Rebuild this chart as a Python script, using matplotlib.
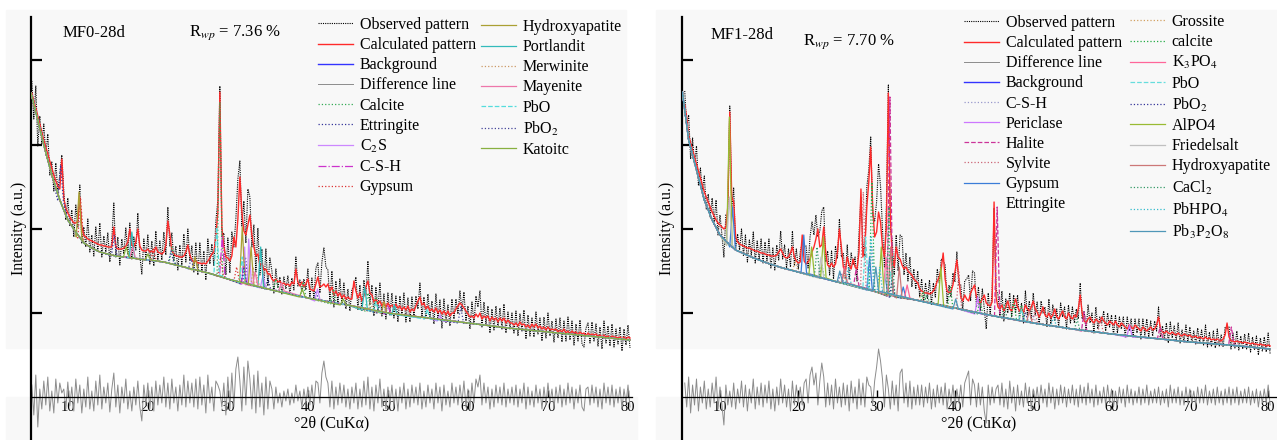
import numpy as np
import matplotlib
matplotlib.use("Agg")
import matplotlib.pyplot as plt
from matplotlib.lines import Line2D
from matplotlib.patches import Rectangle

plt.rcParams['font.family'] = ['Liberation Serif', 'DejaVu Serif']
plt.rcParams['mathtext.fontset'] = 'stix'

# scan positions, 0.25 deg steps from 5.5 to 80.25 (20 points per row below)
two_theta = np.arange(300) * 0.25 + 5.5

# ---------------- MF0-28d ----------------
mf0_calc = [
    304, 296, 289, 281, 273, 265, 257, 250, 243, 236, 229, 222, 216, 211, 208, 238, 198, 189, 184, 180,
    177, 174, 174, 176, 200, 170, 162, 160, 158, 157, 156, 155, 154, 153, 152, 152, 151, 151, 150, 150,
    150, 170, 150, 148, 148, 148, 149, 151, 155, 168, 152, 150, 155, 168, 151, 147, 146, 146, 148, 145,
    146, 145, 150, 145, 144, 143, 145, 152, 176, 163, 146, 143, 141, 141, 140, 140, 141, 145, 152, 142,
    137, 135, 136, 134, 134, 133, 134, 133, 136, 139, 143, 145, 160, 185, 305, 170, 150, 140, 139, 136,
    141, 160, 150, 178, 220, 185, 166, 162, 172, 182, 162, 150, 141, 143, 132, 134, 127, 128, 123, 123,
    118, 116, 118, 115, 116, 113, 114, 112, 113, 111, 115, 113, 128, 115, 111, 115, 110, 113, 118, 108,
    107, 106, 113, 120, 110, 111, 113, 110, 113, 106, 110, 102, 106, 101, 104, 99, 102, 98, 100, 98,
    98, 116, 106, 99, 104, 96, 101, 110, 116, 104, 102, 95, 98, 93, 96, 91, 95, 90, 94, 90,
    92, 89, 93, 89, 91, 87, 90, 87, 91, 85, 88, 86, 91, 96, 100, 92, 94, 88, 91, 86,
    88, 85, 89, 84, 87, 83, 86, 82, 86, 81, 84, 84, 88, 91, 94, 92, 89, 86, 83, 80,
    81, 79, 83, 80, 84, 78, 81, 79, 81, 76, 80, 77, 79, 75, 79, 76, 79, 74, 77, 74,
    74, 72, 74, 71, 75, 72, 73, 70, 72, 69, 73, 70, 73, 69, 71, 68, 70, 67, 70, 67,
    68, 67, 68, 65, 67, 65, 68, 64, 66, 63, 66, 64, 65, 62, 65, 63, 64, 61, 64, 62,
    63, 62, 63, 61, 62, 60, 62, 60, 61, 59, 61, 60, 60, 59, 60, 58, 60, 58, 60, 59,
]
mf0_diff = [
    12, -18, 22, -30, 8, -12, 16, -8, 20, -14, 6, -16, 18, -6, 14, 4, 8, -12, 15, -9,
    10, -14, 18, -6, 12, -16, 8, -10, 20, -12, 6, -14, 16, -8, 22, -12, 10, -6, 14, -15,
    8, 24, -10, 12, -16, 10, -6, 18, -12, 6, -14, 10, -8, 16, -10, -24, 12, -8, 14, -12,
    10, -14, 16, -8, 12, -6, 20, -10, 14, -12, 18, -6, 10, -14, 12, -8, 22, -10, 16, -6,
    14, -10, 18, -12, 20, -8, 12, -16, 22, -6, 10, -14, 16, 12, 6, -10, 14, -18, 20, -12,
    24, -10, 28, 40, 16, -14, 30, -8, 36, 18, -12, 22, -16, 26, -10, 14, -18, 20, -12, 16,
    8, -12, 10, -6, 4, -10, 6, -4, 8, -8, 4, -6, 12, -4, 6, -10, 8, -6, 10, -8,
    12, -8, 16, 14, -6, 24, 36, 20, 14, -10, 16, -12, 10, -8, 14, -6, 12, -10, 8, -12,
    10, -6, 14, -12, 8, -10, 16, -8, 20, -12, 10, -14, 12, -6, 18, -10, 8, -12, 10, -8,
    12, -10, 8, -14, 10, -6, 14, -12, 8, -10, 12, -6, 10, -8, 14, -12, 6, -10, 12, -6,
    8, -12, 14, -6, 10, -14, 12, -8, 6, -10, 14, -6, 10, -8, 12, -6, 16, -10, 8, -12,
    14, -6, 18, 10, 22, -8, 14, -6, 10, -12, 8, -10, 12, -6, 10, -8, 14, -10, 8, -6,
    10, -8, 12, -10, 8, -6, 14, -12, 10, -8, 6, -10, 12, -6, 8, -12, 10, -8, 14, -6,
    8, -12, 10, -6, 12, -10, 8, -8, 14, -6, 10, -12, 8, -6, 12, -10, -14, 8, 10, -8,
    12, -6, 10, -10, 8, -12, 14, -6, 10, -8, 12, -10, 8, -6, 10, -12, 8, -6, 12, -10,
]
mf0_bg_x = [5.4, 6, 7, 8, 9, 10, 11, 12, 13, 14, 16, 18, 20, 22, 25, 28, 30, 35, 40, 45, 50, 55, 60, 65, 70, 75, 80.25]
mf0_bg_y = [304, 285, 252, 222, 197, 177, 165, 154, 149, 145, 141, 139, 137, 135, 129, 123, 118, 108, 99, 92, 84, 79, 74, 69, 65, 61, 57]

# phase peaks: (2theta, base, top)
mf0_calcite = [(23.0, 134, 150), (29.0, 121, 295), (36.0, 107, 118), (39.4, 100, 115), (43.2, 93, 108), (47.5, 86, 104), (48.5, 85, 100)]
mf0_ettringite = [(9.1, 196, 232), (15.8, 141, 162), (22.9, 134, 146), (32.2, 113, 140), (35.0, 108, 118), (41.0, 97, 106)]
mf0_c2s = [(32.1, 113, 150), (32.6, 112, 158), (34.4, 109, 122), (41.2, 96, 108), (56.5, 76, 82)]
mf0_csh = [(29.3, 120, 160), (32.0, 113, 135), (50.0, 83, 92)]
mf0_gypsum = [(11.6, 159, 198), (20.7, 136, 148), (29.1, 121, 140), (31.1, 116, 130)]
mf0_hydroxyapatite = [(11.4, 160, 205), (25.9, 127, 140), (31.8, 114, 170), (32.9, 112, 150), (49.5, 84, 95)]
mf0_portlandit = [(18.0, 139, 165), (34.1, 110, 150), (47.1, 87, 110), (50.8, 82, 92)]
mf0_merwinite = [(33.2, 111, 130), (33.6, 111, 122), (47.8, 86, 96)]
mf0_mayenite = [(18.1, 139, 150), (33.4, 111, 125), (36.7, 106, 114)]
mf0_pbo = [(28.6, 122, 170), (31.8, 114, 140), (48.5, 85, 95), (54.9, 78, 88)]
mf0_pbo2 = [(25.4, 128, 138), (32.0, 113, 130), (49.0, 84, 92), (59.1, 74, 90)]
mf0_katoite = [(17.3, 140, 150), (20.0, 137, 143), (39.3, 100, 108), (44.4, 92, 98)]

# ---------------- MF1-28d ----------------
mf1_calc = [
    292, 280, 262, 254, 247, 240, 233, 226, 219, 212, 205, 200, 195, 190, 185, 181, 177, 174, 172, 170,
    168, 170, 190, 285, 200, 195, 160, 155, 153, 152, 151, 150, 149, 149, 148, 147, 146, 146, 145, 144,
    144, 143, 142, 142, 141, 141, 141, 142, 145, 148, 144, 140, 139, 140, 144, 150, 140, 136, 134, 135,
    162, 136, 133, 135, 138, 145, 150, 158, 168, 150, 152, 170, 145, 132, 130, 134, 130, 133, 145, 168,
    150, 130, 126, 140, 132, 128, 138, 130, 128, 145, 208, 140, 150, 190, 215, 250, 190, 160, 165, 185,
    175, 150, 140, 170, 304, 180, 140, 130, 150, 140, 138, 132, 128, 130, 126, 124, 122, 118, 116, 114,
    108, 106, 105, 104, 104, 103, 104, 106, 110, 116, 120, 128, 144, 118, 106, 104, 106, 112, 125, 137,
    118, 100, 96, 102, 98, 96, 104, 108, 112, 100, 96, 94, 98, 102, 94, 92, 91, 95, 195, 100,
    90, 88, 92, 86, 90, 96, 88, 86, 92, 98, 90, 86, 88, 84, 92, 88, 86, 90, 96, 88,
    85, 80, 84, 90, 82, 80, 84, 79, 82, 88, 80, 78, 82, 86, 80, 78, 84, 80, 78, 82,
    80, 88, 102, 84, 76, 74, 78, 80, 76, 74, 78, 76, 74, 80, 76, 74, 72, 76, 74, 72,
    76, 72, 70, 74, 72, 70, 68, 72, 70, 68, 72, 70, 68, 66, 70, 68, 66, 68, 70, 67,
    68, 72, 80, 68, 65, 64, 66, 64, 63, 65, 63, 62, 64, 62, 61, 63, 62, 61, 62, 60,
    60, 61, 59, 60, 59, 58, 60, 58, 59, 57, 58, 57, 58, 57, 56, 58, 62, 74, 60, 56,
    56, 55, 56, 55, 55, 54, 55, 54, 54, 53, 54, 53, 53, 52, 53, 52, 52, 51, 52, 51,
]
mf1_diff = [
    14, -10, 20, -16, 12, -8, 18, -14, 10, -6, 16, -12, 8, -10, 14, -6, 20, -12, 10, -8,
    -28, 12, -8, 6, -10, 14, -12, 8, -6, 16, -10, 12, -14, 8, -6, 18, -12, 10, -8, 14,
    -10, 12, -6, 16, -12, 8, -14, 10, -8, 18, -6, 12, -10, 8, -14, 16, -8, 12, -6, 10,
    -8, 14, 18, -6, 22, 30, 12, 24, -8, 16, 34, 20, -10, 14, -8, 12, -12, 18, -6, 10,
    -10, 14, -8, 12, -14, 16, -6, 10, -12, 18, -8, 14, -10, 20, 12, 10, -8, 16, 30, 48,
    36, 18, -10, 22, 8, -12, 16, -8, 12, -14, 24, 28, -6, 14, -10, 16, -12, 10, -8, 12,
    -8, 12, -10, 10, -6, 14, -12, 8, -10, 12, -6, 10, -8, 14, -12, 8, -6, 12, -10, 8,
    -6, 12, -10, 14, 20, 26, -8, 18, 12, -10, 14, -8, 10, -14, -26, 12, -8, 10, -6, 8,
    12, -8, 14, -10, 8, -12, 16, -6, 10, -14, 12, -8, 6, -10, 14, -6, 10, -12, 8, -6,
    10, -8, 12, -6, 8, -10, 14, -6, 10, -12, 8, -8, 12, -6, 10, -10, 8, -6, 12, -8,
    8, -10, 12, -6, 10, -8, 14, -6, 8, -10, 12, -8, 6, -6, 10, -8, 12, -6, 8, -10,
    6, -8, 10, -6, 8, -10, 12, -6, 8, -8, 6, -6, 10, -8, 8, -6, 12, -8, 6, -6,
    8, -6, 10, -8, 6, -6, 8, -10, 12, -6, 8, -6, 10, -8, 6, -8, 10, -6, 8, -6,
    6, -8, 10, -6, 8, -6, 12, -8, 6, -6, 8, -8, 10, -6, 6, -8, 8, -6, 10, -8,
    8, -6, 10, -8, 6, -6, 8, -6, 10, -8, 6, -6, 8, -10, 6, -6, 8, -6, 12, -8,
]
mf1_bg_x = [5.2, 6, 7, 8, 9, 10, 11, 12, 14, 16, 18, 20, 25, 30, 35, 40, 45, 50, 55, 60, 65, 70, 75, 80.25]
mf1_bg_y = [305, 257, 227, 197, 177, 162, 154, 147, 140, 134, 129, 125, 115, 105, 97, 89, 81, 74, 68, 63, 59, 55, 52, 48]

mf1_csh = [(29.4, 108, 150), (32.0, 100, 120), (50.0, 74, 82)]
mf1_periclase = [(42.9, 83, 100), (62.3, 60, 72)]
mf1_halite = [(27.4, 111, 128), (31.7, 101, 300), (45.4, 80, 190), (56.5, 66, 85), (66.2, 58, 70), (75.3, 52, 70)]
mf1_sylvite = [(28.3, 109, 205), (40.5, 88, 125), (50.2, 74, 86), (58.6, 64, 78), (66.4, 58, 66), (73.7, 52, 58)]
mf1_gypsum = [(11.6, 150, 190), (20.7, 124, 162), (29.1, 107, 140), (31.1, 103, 120), (33.4, 99, 110)]
mf1_grossite = [(19.6, 126, 136), (25.8, 114, 125), (35.7, 96, 104)]
mf1_calcite = [(23.0, 119, 132), (29.4, 107, 215), (36.0, 96, 106), (39.4, 89, 110), (43.2, 83, 98), (47.5, 78, 95), (48.5, 77, 92)]
mf1_k3po4 = [(25.9, 114, 130), (31.2, 103, 140), (33.9, 99, 112)]
mf1_pbo = [(28.6, 109, 160), (31.8, 101, 125), (48.5, 77, 88)]
mf1_pbo2 = [(25.4, 115, 124), (32.0, 100, 118), (49.0, 76, 84)]
mf1_alpo4 = [(11.2, 152, 280), (21.7, 122, 150), (23.2, 119, 160), (30.6, 104, 150), (38.2, 92, 130)]
mf1_friedel = [(11.2, 152, 200), (22.9, 119, 140), (31.2, 103, 125)]
mf1_hydroxyapatite = [(25.9, 114, 128), (31.8, 101, 150), (32.9, 99, 130), (49.5, 75, 86)]
mf1_cacl2 = [(22.4, 120, 150), (31.6, 101, 190), (32.0, 100, 140), (36.4, 95, 102), (46.3, 79, 92), (55.6, 67, 78)]
mf1_pbhpo4 = [(26.4, 113, 130), (29.3, 107, 160), (30.4, 105, 130), (52.6, 71, 80)]
mf1_pb3p2o8 = [(25.3, 115, 126), (29.9, 106, 130), (40.1, 88, 98)]

y_ticks = [84, 168, 252, 337]

W, H = 1277, 440
fig = plt.figure(figsize=(W / 100, H / 100), dpi=100)

# light grey panel backgrounds
for x0, y0, x1, y1 in [(6, 10, 626, 348), (6, 397, 637, 440), (656, 10, 1277, 348), (656, 397, 1277, 440)]:
    fig.add_artist(Rectangle((x0 / W, 1 - y1 / H), (x1 - x0) / W, (y1 - y0) / H,
                             transform=fig.transFigure, color='#f8f8f8', zorder=0))


def phase_curve(bg_x, bg_y, peaks, half=0.35):
    centers = np.array([p[0] for p in peaks])
    xs = [x for x in bg_x if np.all(np.abs(centers - x) >= half)]
    ys = [y for x, y in zip(bg_x, bg_y) if np.all(np.abs(centers - x) >= half)]
    for c, b, t in peaks:
        xs += [c - half, c, c + half]
        ys += [b, t, b]
    order = np.argsort(xs, kind='stable')
    return np.array(xs)[order], np.array(ys)[order]


def draw_panel(ax, calc, diff, bg_x, bg_y, phases, xlim):
    calc = np.array(calc, float)
    diff = np.array(diff, float)
    obs = calc + diff
    h = {}
    h['obs'], = ax.plot(two_theta, obs, color='black', ls=(0, (1, 1)), lw=0.8, label='Observed pattern', zorder=2)
    h['calc'], = ax.plot(two_theta, calc, color='#ff2a2a', lw=1.0, label='Calculated pattern', zorder=3)
    h['diff'], = ax.plot(two_theta, diff, color='#8c8c8c', lw=0.7, label='Difference line', zorder=2)
    h['bg'], = ax.plot(bg_x, bg_y, color='#3333ff', lw=1.0, label='Background', zorder=3)
    ph = []
    for label, peaks, color, ls in phases:
        px, py = phase_curve(bg_x, bg_y, peaks)
        line, = ax.plot(px, py, color=color, ls=ls, lw=0.9, label=label, zorder=4)
        ph.append(line)

    ax.set_xlim(*xlim)
    ax.set_ylim(-43, 380)
    ax.set_facecolor('none')
    for s in ['top', 'right']:
        ax.spines[s].set_visible(False)
    ax.spines['bottom'].set_position(('data', 0))
    ax.spines['bottom'].set_linewidth(0.9)
    ax.spines['left'].set_linewidth(1.6)
    ax.set_xticks(range(10, 81, 10))
    ax.tick_params(axis='x', direction='in', length=5, width=1, labelsize=10.5, pad=3)
    ax.set_yticks(y_ticks)
    ax.tick_params(axis='y', direction='in', length=8, width=1.6, labelleft=False)
    ax.set_xlabel('°2θ (CuKα)', fontsize=11.5, labelpad=1)
    ax.set_ylabel('Intensity (a.u.)', fontsize=11.5)
    return h, ph


def add_legends(ax, col1, col2, x1, x2, y1, y2):
    kw = dict(loc='upper left', frameon=False, fontsize=11.5, handlelength=2.2,
              handletextpad=0.4, labelspacing=0.26, borderpad=0, borderaxespad=0)
    pos = ax.get_position()
    def to_ax(px, py):
        return ((px / W - pos.x0) / pos.width, ((1 - py / H) - pos.y0) / pos.height)
    leg = ax.legend(handles=col1, bbox_to_anchor=to_ax(x1, y1), **kw)
    ax.add_artist(leg)
    ax.legend(handles=col2, bbox_to_anchor=to_ax(x2, y2), **kw)


# left panel
ax1 = fig.add_axes([31 / W, 0, 601 / W, 423 / H])
mf0_phases = [
    ('Calcite', mf0_calcite, '#33aa55', ':'),
    ('Ettringite', mf0_ettringite, '#333399', ':'),
    ('C$_2$S', mf0_c2s, '#cc88ff', '-'),
    ('C-S-H', mf0_csh, '#cc33cc', '-.'),
    ('Gypsum', mf0_gypsum, '#dd3333', ':'),
    ('Hydroxyapatite', mf0_hydroxyapatite, '#aaa033', '-'),
    ('Portlandit', mf0_portlandit, '#33bbbb', '-'),
    ('Merwinite', mf0_merwinite, '#cc9966', ':'),
    ('Mayenite', mf0_mayenite, '#ee77aa', '-'),
    ('PbO', mf0_pbo, '#55dddd', '--'),
    ('PbO$_2$', mf0_pbo2, '#444499', ':'),
    ('Katoitc', mf0_katoite, '#88b040', '-'),
]
h, ph = draw_panel(ax1, mf0_calc, mf0_diff, mf0_bg_x, mf0_bg_y, mf0_phases, (5.4, 80.5))
ax1.yaxis.set_label_coords(-4 / 601, 0.5)
add_legends(ax1, [h['obs'], h['calc'], h['bg'], h['diff']] + ph[:5], ph[5:], 318, 481, 17, 19)
fig.text(63 / W, 1 - 33 / H, 'MF0-28d', fontsize=12, va='center', ha='left')
fig.text(189 / W, 1 - 33 / H, 'R$_{wp}$ = 7.36 %', fontsize=12, va='center', ha='left')

# right panel
ax2 = fig.add_axes([682 / W, 0, 594 / W, 423 / H])
mf1_phases = [
    ('C-S-H', mf1_csh, '#9999cc', ':'),
    ('Periclase', mf1_periclase, '#cc77ff', '-'),
    ('Halite', mf1_halite, '#cc3399', '--'),
    ('Sylvite', mf1_sylvite, '#cc6677', ':'),
    ('Gypsum', mf1_gypsum, '#3b7dd8', '-'),
    ('Grossite', mf1_grossite, '#d2a060', ':'),
    ('calcite', mf1_calcite, '#22aa44', ':'),
    ('K$_3$PO$_4$', mf1_k3po4, '#ff6699', '-'),
    ('PbO', mf1_pbo, '#66dddd', '--'),
    ('PbO$_2$', mf1_pbo2, '#333399', ':'),
    ('AlPO4', mf1_alpo4, '#99bb33', '-'),
    ('Friedelsalt', mf1_friedel, '#c0c0c0', '-'),
    ('Hydroxyapatite', mf1_hydroxyapatite, '#cc7777', '-'),
    ('CaCl$_2$', mf1_cacl2, '#339966', ':'),
    ('PbHPO$_4$', mf1_pbhpo4, '#33bbcc', ':'),
    ('Pb$_3$P$_2$O$_8$', mf1_pb3p2o8, '#4f97b8', '-'),
]
h, ph = draw_panel(ax2, mf1_calc, mf1_diff, mf1_bg_x, mf1_bg_y, mf1_phases, (5.15, 81.0))
ax2.yaxis.set_label_coords(-7 / 594, 0.5)
ettr = Line2D([], [], ls='none', label='Ettringite')
add_legends(ax2, [h['obs'], h['calc'], h['diff'], h['bg']] + ph[:5] + [ettr], ph[5:], 964, 1130, 15, 14)
fig.text(711 / W, 1 - 35 / H, 'MF1-28d', fontsize=12, va='center', ha='left')
fig.text(803 / W, 1 - 42 / H, 'R$_{wp}$ = 7.70 %', fontsize=12, va='center', ha='left')

fig.savefig('out.png', dpi=100)
